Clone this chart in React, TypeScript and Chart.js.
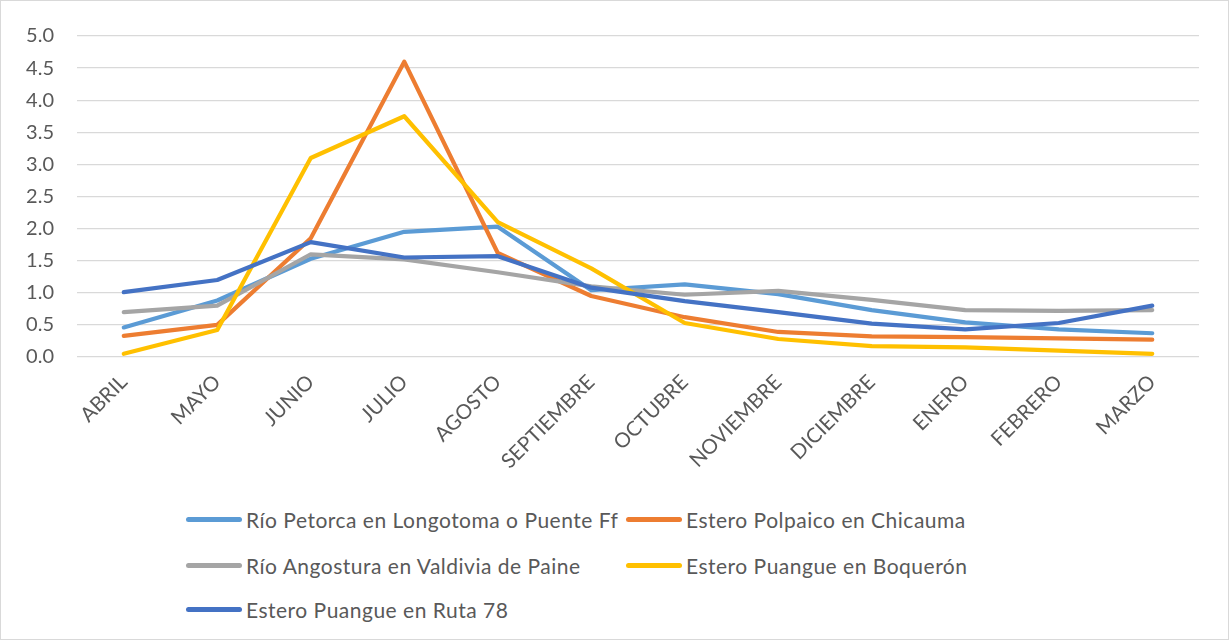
import React, { useEffect, useRef } from "react";
import { Chart, registerables } from "chart.js";

Chart.register(...registerables);

const months = ["ABRIL", "MAYO", "JUNIO", "JULIO", "AGOSTO", "SEPTIEMBRE", "OCTUBRE", "NOVIEMBRE", "DICIEMBRE", "ENERO", "FEBRERO", "MARZO"];

const seriesNames = [
  "Río Petorca en Longotoma o Puente Ff",
  "Estero Polpaico en Chicauma",
  "Río Angostura en Valdivia de Paine",
  "Estero Puangue en Boquerón",
  "Estero Puangue en Ruta 78",
];

const petorca = [0.46, 0.88, 1.53, 1.95, 2.03, 1.04, 1.13, 0.98, 0.73, 0.54, 0.43, 0.37];
const polpaico = [0.33, 0.5, 1.85, 4.6, 1.62, 0.95, 0.62, 0.39, 0.32, 0.31, 0.29, 0.27];
const angostura = [0.7, 0.8, 1.6, 1.52, 1.32, 1.1, 0.97, 1.03, 0.89, 0.73, 0.72, 0.73];
const boqueron = [0.05, 0.42, 3.1, 3.75, 2.1, 1.38, 0.53, 0.28, 0.17, 0.15, 0.1, 0.05];
const ruta78 = [1.01, 1.2, 1.79, 1.55, 1.57, 1.08, 0.87, 0.7, 0.52, 0.43, 0.53, 0.8];

const colors = ["#5B9BD5", "#ED7D31", "#A5A5A5", "#FFC000", "#4472C4"];
const allSeries = [petorca, polpaico, angostura, boqueron, ruta78];

const FONT = "Lato, 'Open Sans', sans-serif";
const TEXT = "#595959";

export default function App() {
  const ref = useRef<HTMLCanvasElement | null>(null);

  useEffect(() => {
    document.body.style.margin = "0";
    const ctx = ref.current!;
    const chart = new Chart(ctx, {
      type: "line",
      data: {
        labels: months,
        datasets: allSeries.map((d, i) => ({
          label: seriesNames[i],
          data: d,
          borderColor: colors[i],
          backgroundColor: colors[i],
          borderWidth: 4.2,
          pointRadius: 0,
          tension: 0,
          borderCapStyle: "round" as const,
          borderJoinStyle: "round" as const,
          order: 5 - i,
        })),
      },
      options: {
        animation: false,
        responsive: false,
        maintainAspectRatio: false,
        layout: { padding: { left: 0, right: 29, top: 35, bottom: 0 } },
        plugins: { legend: { display: false }, tooltip: { enabled: false } },
        scales: {
          x: {
            offset: true,
            grid: { display: false, drawTicks: false },
            border: { display: false },
            ticks: {
              autoSkip: false,
              minRotation: 45,
              maxRotation: 45,
              padding: 13,
              color: TEXT,
              font: { family: FONT, size: 20.5 },
            },
            afterFit: (scale: any) => {
              scale.height = 480 - 356;
            },
          },
          y: {
            min: 0,
            max: 5,
            grid: { color: "#D9D9D9", lineWidth: 1.3, drawTicks: false },
            border: { display: false },
            ticks: {
              stepSize: 0.5,
              padding: 23,
              color: TEXT,
              font: { family: FONT, size: 20 },
              callback: (v: any) => Number(v).toFixed(1),
            },
            afterFit: (scale: any) => {
              scale.width = 76;
            },
          },
        },
      },
    });
    return () => chart.destroy();
  }, []);

  const rows = [
    [0, 1],
    [2, 3],
    [4],
  ];
  const rowY = [518, 564, 608];
  const colX = [185, 625];

  return (
    <div
      style={{
        position: "absolute",
        left: 0,
        top: 0,
        width: 1229,
        height: 640,
        border: "1px solid #D9D9D9",
        background: "#fff",
        boxSizing: "border-box",
        fontFamily: FONT,
      }}
    >
      <canvas ref={ref} width={1227} height={480} style={{ position: "absolute", left: 0, top: 0 }} />
      {rows.map((r, ri) =>
        r.map((si, ci) => (
          <div
            key={si}
            style={{
              position: "absolute",
              left: colX[ci],
              top: rowY[ri] - 15,
              height: 30,
              display: "flex",
              alignItems: "center",
              whiteSpace: "nowrap",
              color: TEXT,
              fontSize: 21,
              letterSpacing: 0.5,
            }}
          >
            <span
              style={{
                display: "inline-block",
                width: 56,
                height: 5,
                borderRadius: 3,
                background: colors[si],
                marginRight: 4,
              }}
            />
            <span>{seriesNames[si]}</span>
          </div>
        ))
      )}
    </div>
  );
}
